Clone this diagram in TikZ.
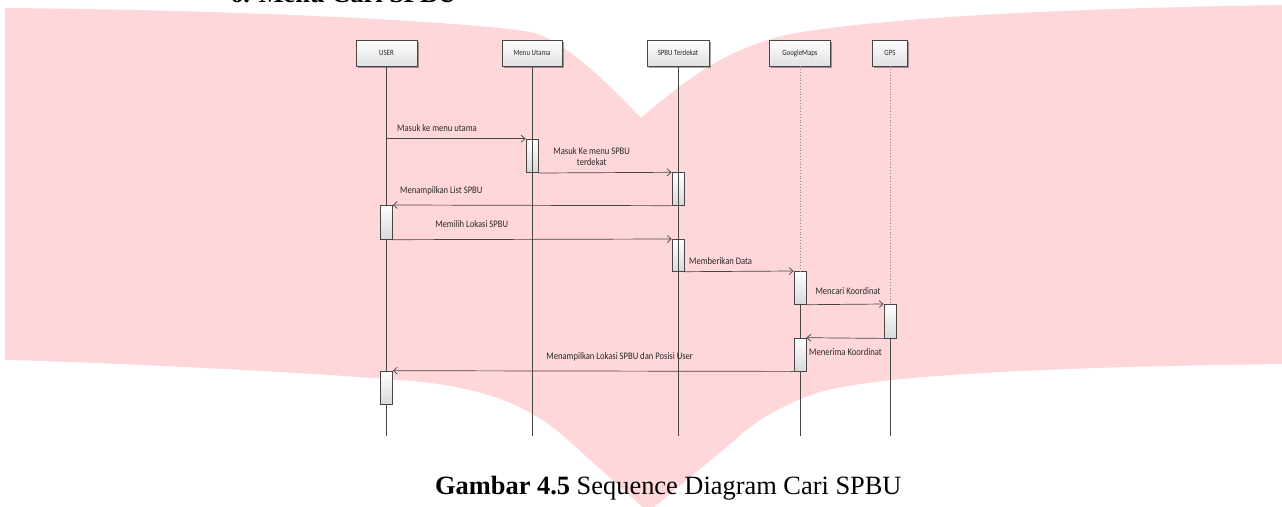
\documentclass[tikz,border=0pt]{standalone}
\usepackage{fontspec}
\setmainfont{Liberation Serif}
\newfontfamily\diagfont[FakeStretch=0.86]{Carlito}
\usetikzlibrary{arrows.meta,shadows}
\definecolor{wmpink}{RGB}{255,215,218}
\definecolor{linec}{RGB}{70,70,70}
\definecolor{txtc}{RGB}{40,40,40}
\begin{document}
\begin{tikzpicture}[x=1pt,y=-1pt,
  headbox/.style={draw=linec, line width=0.7pt, top color=white, bottom color=black!12,
    minimum height=26pt, inner sep=0pt, text=txtc,
    font=\diagfont\fontsize{8}{9}\selectfont,
    drop shadow={shadow xshift=1.5pt,shadow yshift=-1.5pt,fill=black,opacity=0.35}},
  actbox/.style={draw=linec, line width=0.7pt, top color=white, bottom color=black!15,
    minimum width=12pt, inner sep=0pt, anchor=north},
  life/.style={draw=linec, line width=0.6pt},
  dotlife/.style={draw=black!45, line width=0.6pt, dash pattern=on 0.8pt off 2pt},
  msg/.style={draw=linec, line width=0.7pt, -{Straight Barb[length=4pt,width=7pt]}},
  msglabel/.style={font=\diagfont\fontsize{10}{12}\selectfont, text=txtc, inner sep=0pt},
]
\useasboundingbox (0,0) rectangle (1282,506);

% background emblem
\fill[wmpink] (5,8) .. controls (250,10) and (470,22) .. (530,32)
  .. controls (560,38) and (600,75) .. (641,118)
  .. controls (680,85) and (720,50) .. (790,34)
  .. controls (900,15) and (1100,8) .. (1282,5)
  -- (1282,364)
  .. controls (1050,367) and (880,375) .. (820,392)
  .. controls (780,405) and (750,425) .. (735,440)
  -- (648,512) -- (560,433)
  .. controls (520,400) and (470,385) .. (400,380)
  .. controls (300,372) and (100,362) .. (5,360) -- cycle;

% section heading, cut by the page edge
\node[anchor=base west, inner sep=0pt, font=\bfseries\fontsize{26.4}{30}\selectfont] (sect) at (230,2.5) {6. Menu Cari SPBU};

% participants
\node[headbox, minimum width=61pt] (user)  at (386.5,53) {USER};
\node[headbox, minimum width=60pt] (menu)  at (532,53)   {Menu Utama};
\node[headbox, minimum width=62pt] (spbu)  at (678,53)   {SPBU Terdekat};
\node[headbox, minimum width=61pt] (gmaps) at (800,53)   {GoogleMaps};
\node[headbox, minimum width=35pt] (gps)   at (890,53)   {GPS};

\coordinate (userEnd)  at (386.5,435.7);
\coordinate (menuEnd)  at (532,435.7);
\coordinate (spbuEnd)  at (678,435.7);
\coordinate (gmapsEnd) at (800,435.7);
\coordinate (gpsEnd)   at (890,435.7);

% activation bars
\node[actbox, minimum height=33.6pt] (am1) at (532,138.7) {};
\node[actbox, minimum height=32.7pt] (as1) at (678,172.3) {};
\node[actbox, minimum height=34pt]   (au1) at (386.5,205) {};
\node[actbox, minimum height=32pt]   (as2) at (678,239) {};
\node[actbox, minimum height=33pt]   (ag1) at (800,271) {};
\node[actbox, minimum height=33.7pt] (ap1) at (890,304) {};
\node[actbox, minimum height=33pt]   (ag2) at (800,337.7) {};
\node[actbox, minimum height=33.6pt] (au2) at (386.5,370.7) {};

% lifelines (Menu Utama and SPBU Terdekat run across their bars)
\draw[life] (user.south) -- (au1.north) (au1.south) -- (au2.north) (au2.south) -- (userEnd);
\draw[life] (menu.south) -- (menuEnd);
\draw[life] (spbu.south) -- (spbuEnd);
\draw[dotlife] (gmaps.south) -- (ag1.north);
\draw[life] (ag1.south) -- (ag2.north) (ag2.south) -- (gmapsEnd);
\draw[dotlife] (gps.south) -- (ap1.north);
\draw[life] (ap1.south) -- (gpsEnd);

% messages
\draw[msg] (am1.north west -| user.south) -- (am1.north west);
\draw[msg] (am1.south east) -- (as1.north west);
\draw[msg] (as1.south west) -- (au1.north east);
\draw[msg] (au1.south east) -- (as2.north west);
\draw[msg] (as2.south east) -- (ag1.north west);
\draw[msg] (ag1.south east) -- (ap1.north west);
\draw[msg] (ap1.south west) -- (ag2.north east);
\draw[msg] (ag2.south west) -- (au2.north east);

% message labels
\node[msglabel, anchor=west] (t1) at (397,127.7) {Masuk ke menu utama};
\node[msglabel, align=center] (t2) at (591.7,156.5) {Masuk Ke menu SPBU\\[-1pt]terdekat};
\node[msglabel, anchor=west] (t3) at (400,190.7) {Menampilkan List SPBU};
\node[msglabel] (t4) at (471.7,224) {Memilih Lokasi SPBU};
\node[msglabel, anchor=west] (t5) at (689,260.7) {Memberikan Data};
\node[msglabel] (t6) at (848,291) {Mencari Koordinat};
\node[msglabel, anchor=west] (t7) at (809,352.3) {Menerima Koordinat};
\node[msglabel] (t8) at (619.7,356.7) {Menampilkan Lokasi SPBU dan Posisi User};

% caption
\node[anchor=base west, inner sep=0pt, font=\fontsize{26.4}{30}\selectfont] (cap) at (435,494)
  {\textbf{Gambar 4.5} Sequence Diagram Cari SPBU};
\end{tikzpicture}
\end{document}
